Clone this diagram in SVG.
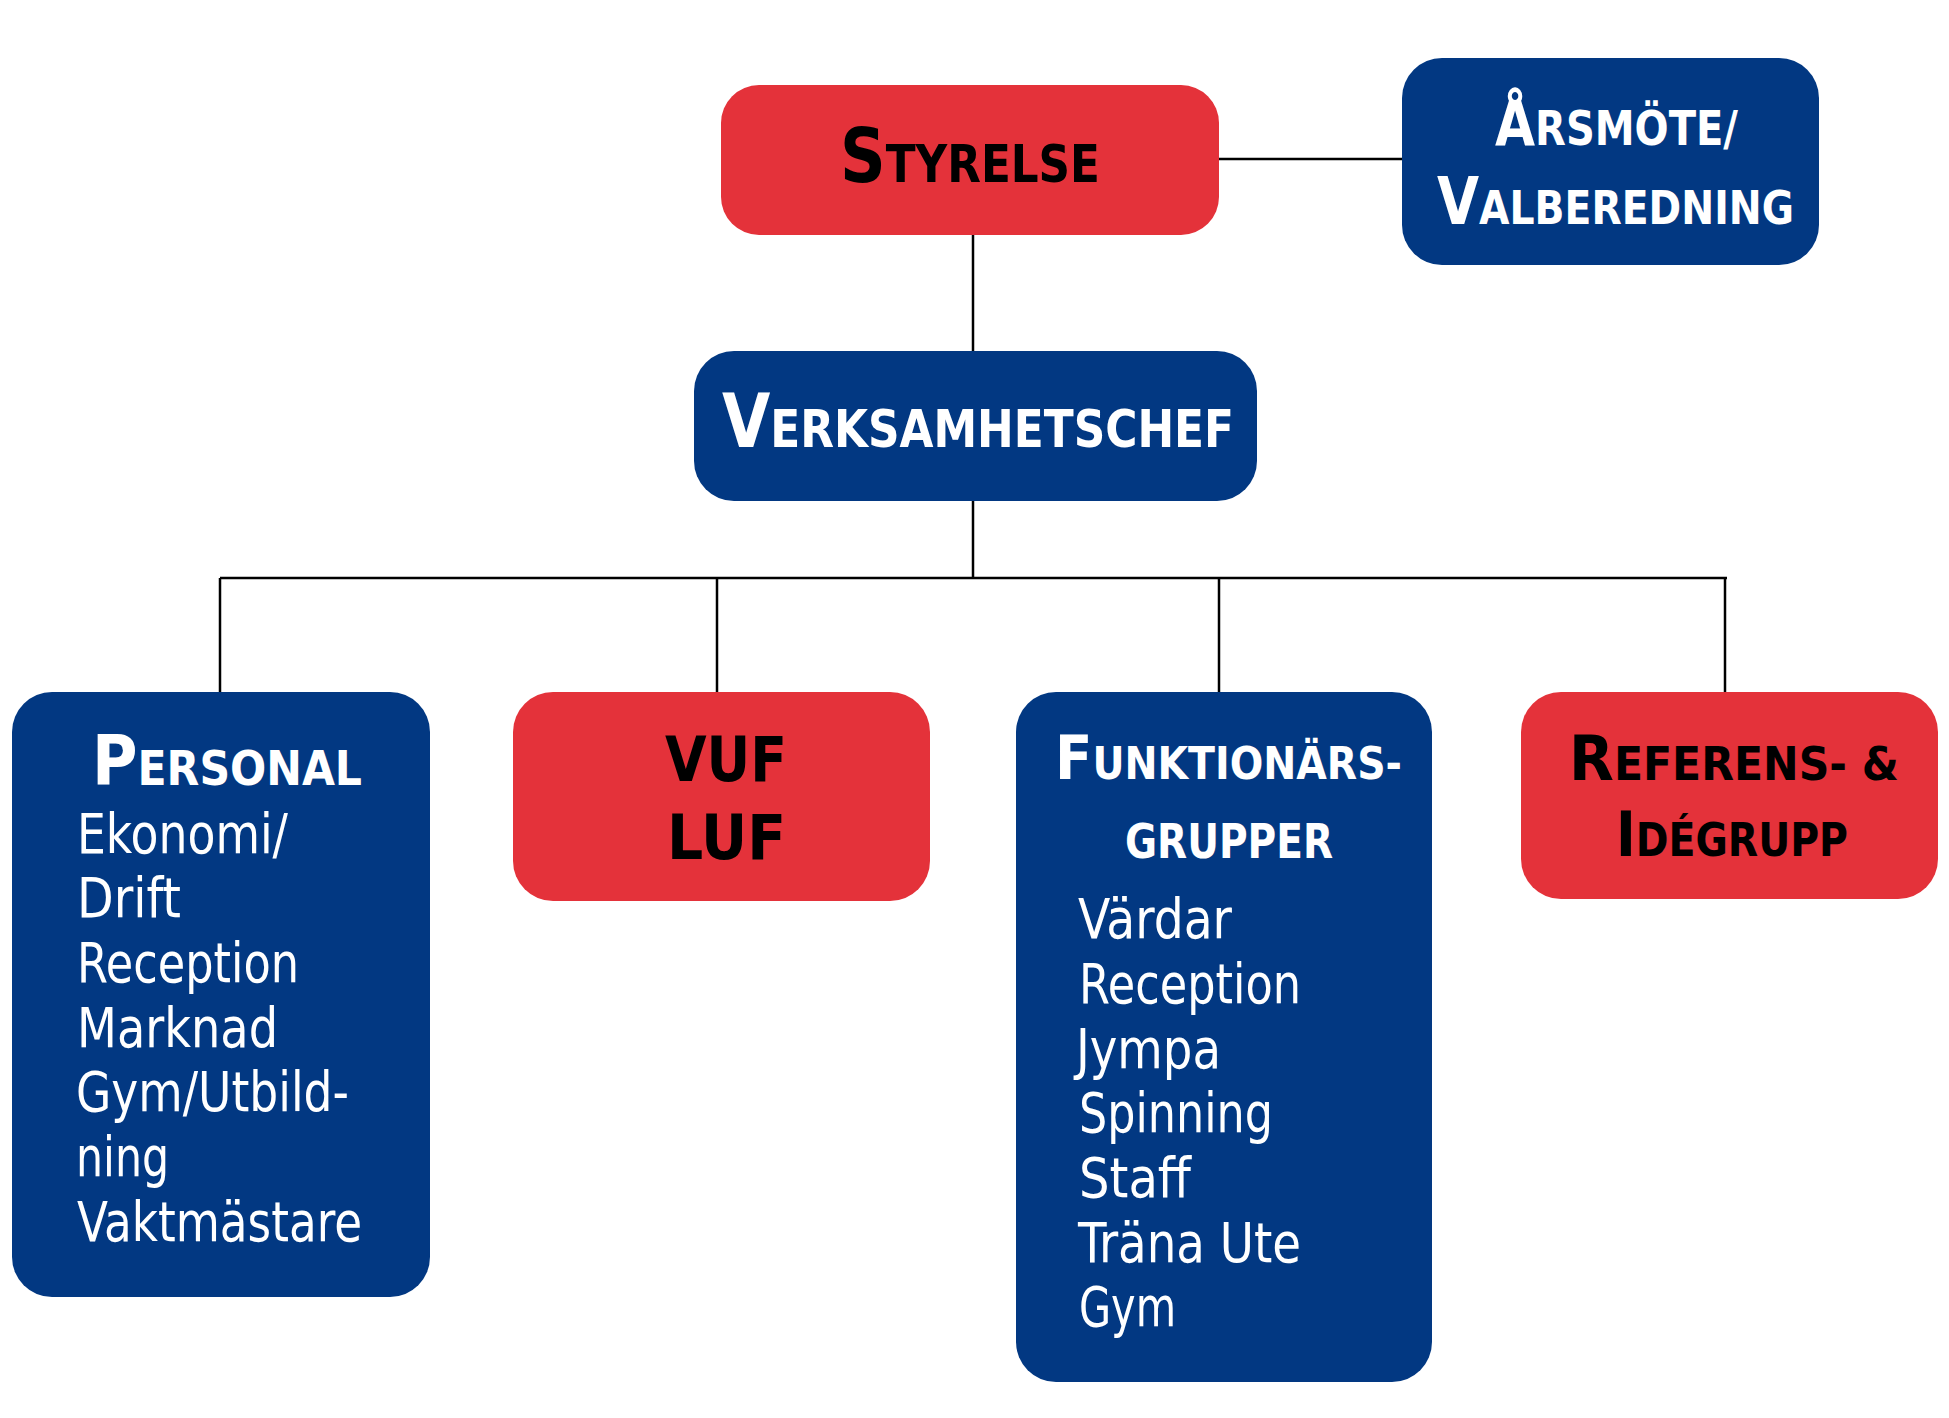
<svg xmlns="http://www.w3.org/2000/svg" width="1949" height="1418" viewBox="0 0 1949 1418">
<style>
.red{fill:#E4323A}
.blue{fill:#023882}
.hd{font-family:"DejaVu Sans Condensed","DejaVu Sans",sans-serif;font-weight:bold}
.blk{fill:#000}
.wht{fill:#fff}
.body{font-family:"DejaVu Sans Condensed","DejaVu Sans",sans-serif;font-size:55px;fill:#fff}
.conn{stroke:#000;stroke-width:2.5;fill:none}
</style>
<rect width="1949" height="1418" fill="#fff"/>
<g id="connectors" class="conn">
<line x1="1219" y1="159" x2="1402" y2="159"/>
<line x1="973" y1="235" x2="973" y2="351"/>
<line x1="973" y1="501" x2="973" y2="578"/>
<line x1="220" y1="578" x2="1727" y2="578"/>
<line x1="220" y1="578" x2="220" y2="692"/>
<line x1="717" y1="578" x2="717" y2="692"/>
<line x1="1219" y1="578" x2="1219" y2="692"/>
<line x1="1725" y1="578" x2="1725" y2="692"/>
</g>
<g id="styrelse">
<rect class="red" x="721" y="85" width="498" height="150" rx="38"/>
<text class="hd blk" x="840" y="182" textLength="260" lengthAdjust="spacingAndGlyphs"><tspan font-size="74">S</tspan><tspan font-size="51">TYRELSE</tspan></text>
</g>
<g id="arsmote">
<rect class="blue" x="1402" y="58" width="417" height="207" rx="40"/>
<text class="hd wht" x="1495" y="145" textLength="243" lengthAdjust="spacingAndGlyphs"><tspan font-size="62">Å</tspan><tspan font-size="48">RSMÖTE/</tspan></text>
<text class="hd wht" x="1437" y="224" textLength="357" lengthAdjust="spacingAndGlyphs"><tspan font-size="65">V</tspan><tspan font-size="47">ALBEREDNING</tspan></text>
</g>
<g id="verksamhetschef">
<rect class="blue" x="694" y="351" width="563" height="150" rx="40"/>
<text class="hd wht" x="722" y="447" textLength="512" lengthAdjust="spacingAndGlyphs"><tspan font-size="74">V</tspan><tspan font-size="52">ERKSAMHETSCHEF</tspan></text>
</g>
<g id="personal">
<rect class="blue" x="12" y="692" width="418" height="605" rx="40"/>
<text class="hd wht" x="92" y="785" textLength="270" lengthAdjust="spacingAndGlyphs"><tspan font-size="70">P</tspan><tspan font-size="48">ERSONAL</tspan></text>
<text class="body" x="77" y="853" textLength="211" lengthAdjust="spacingAndGlyphs">Ekonomi/</text>
<text class="body" x="77" y="917" textLength="104" lengthAdjust="spacingAndGlyphs">Drift</text>
<text class="body" x="77" y="982" textLength="222" lengthAdjust="spacingAndGlyphs">Reception</text>
<text class="body" x="77" y="1047" textLength="201" lengthAdjust="spacingAndGlyphs">Marknad</text>
<text class="body" x="76" y="1111" textLength="273" lengthAdjust="spacingAndGlyphs">Gym/Utbild-</text>
<text class="body" x="76" y="1176" textLength="93" lengthAdjust="spacingAndGlyphs">ning</text>
<text class="body" x="77" y="1241" textLength="285" lengthAdjust="spacingAndGlyphs">Vaktmästare</text>
</g>
<g id="vuf">
<rect class="red" x="513" y="692" width="417" height="209" rx="40"/>
<text class="hd blk" x="665" y="781" font-size="63" textLength="122" lengthAdjust="spacingAndGlyphs">VUF</text>
<text class="hd blk" x="667" y="859" font-size="63" textLength="119" lengthAdjust="spacingAndGlyphs">LUF</text>
</g>
<g id="funktionars">
<rect class="blue" x="1016" y="692" width="416" height="690" rx="40"/>
<text class="hd wht" x="1055" y="779" textLength="347" lengthAdjust="spacingAndGlyphs"><tspan font-size="61">F</tspan><tspan font-size="44">UNKTIONÄRS-</tspan></text>
<text class="hd wht" x="1125" y="858" font-size="48" textLength="208" lengthAdjust="spacingAndGlyphs">GRUPPER</text>
<text class="body" x="1078" y="938" textLength="154" lengthAdjust="spacingAndGlyphs">Värdar</text>
<text class="body" x="1079" y="1003" textLength="222" lengthAdjust="spacingAndGlyphs">Reception</text>
<text class="body" x="1076" y="1068" textLength="145" lengthAdjust="spacingAndGlyphs">Jympa</text>
<text class="body" x="1079" y="1132" textLength="194" lengthAdjust="spacingAndGlyphs">Spinning</text>
<text class="body" x="1079" y="1197" textLength="112" lengthAdjust="spacingAndGlyphs">Staff</text>
<text class="body" x="1078" y="1262" textLength="223" lengthAdjust="spacingAndGlyphs">Träna Ute</text>
<text class="body" x="1079" y="1326" textLength="97" lengthAdjust="spacingAndGlyphs">Gym</text>
</g>
<g id="referens">
<rect class="red" x="1521" y="692" width="417" height="207" rx="40"/>
<text class="hd blk" x="1569" y="780" textLength="330" lengthAdjust="spacingAndGlyphs"><tspan font-size="63">R</tspan><tspan font-size="46">EFERENS- &amp;</tspan></text>
<text class="hd blk" x="1616" y="856" textLength="232" lengthAdjust="spacingAndGlyphs"><tspan font-size="62">I</tspan><tspan font-size="46">DÉGRUPP</tspan></text>
</g>
</svg>
